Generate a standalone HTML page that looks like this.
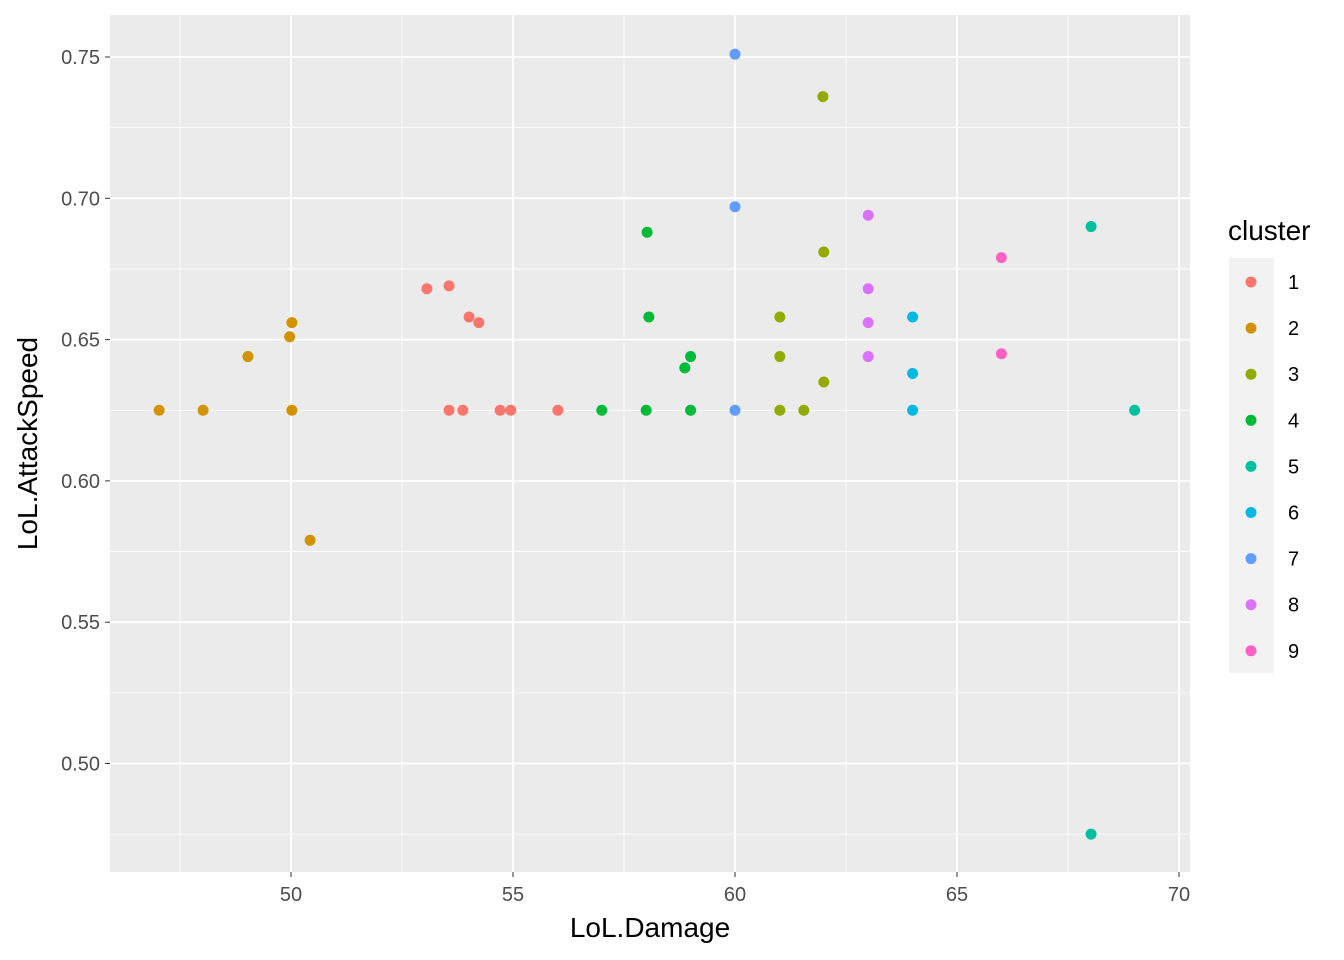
<!DOCTYPE html>
<html><head><meta charset="utf-8"><style>body{margin:0;background:#fff}svg{display:block;font-family:"Liberation Sans",sans-serif}</style></head>
<body>
<svg id="chart" width="1344" height="960" xmlns="http://www.w3.org/2000/svg"></svg>
<script>
const cluster1X=[53.06,53.56,54.01,54.23,53.56,53.87,54.71,54.95,56.01];
const cluster1Y=[0.668,0.669,0.658,0.656,0.625,0.625,0.625,0.625,0.625];
const cluster2X=[47.03,48.02,49.03,49.97,50.02,50.02,50.43];
const cluster2Y=[0.625,0.625,0.644,0.651,0.656,0.625,0.579];
const cluster3X=[61.98,62,61.01,61.01,61.01,62,61.55];
const cluster3Y=[0.736,0.681,0.658,0.644,0.625,0.635,0.625];
const cluster4X=[58.02,58.06,59,58.87,57,58,59];
const cluster4Y=[0.688,0.658,0.644,0.640,0.625,0.625,0.625];
const cluster5X=[68.02,69,68.02];
const cluster5Y=[0.690,0.625,0.475];
const cluster6X=[64,64,64];
const cluster6Y=[0.658,0.638,0.625];
const cluster7X=[60,60,60];
const cluster7Y=[0.751,0.697,0.625];
const cluster8X=[63,63,63,63];
const cluster8Y=[0.694,0.668,0.656,0.644];
const cluster9X=[66,66];
const cluster9Y=[0.679,0.645];
const clusterLabels=["1","2","3","4","5","6","7","8","9"];
const xTicks=[50,55,60,65,70];
const yTicks=[0.50,0.55,0.60,0.65,0.70,0.75];

const colors=["#F8766D","#D39200","#93AA00","#00BA38","#00C19F","#00B9E3","#619CFF","#DB72FB","#FF61C3"];
const X=[cluster1X,cluster2X,cluster3X,cluster4X,cluster5X,cluster6X,cluster7X,cluster8X,cluster9X];
const Y=[cluster1Y,cluster2Y,cluster3Y,cluster4Y,cluster5Y,cluster6Y,cluster7Y,cluster8Y,cluster9Y];
const L=110,R=1190,T=15,B=872;
const xs=v=>291+(v-50)*44.4;
const ys=v=>57+(0.75-v)*2826;
const svg=document.getElementById('chart');
const NS="http://www.w3.org/2000/svg";
function mk(tag,attrs,parent){const e=document.createElementNS(NS,tag);for(const k in attrs)e.setAttribute(k,attrs[k]);(parent||svg).appendChild(e);return e;}
const panel=mk('rect',{x:L,y:T,width:R-L,height:B-T,fill:'#EBEBEB'});


const grid=mk('g',{});


for(let i=0;i<xTicks.length;i++){
  const mx=xs(xTicks[i]-2.5);
  if(mx>L)mk('line',{x1:mx,x2:mx,y1:T,y2:B,stroke:'#fff','stroke-width':0.8},grid);
  mk('line',{x1:xs(xTicks[i]),x2:xs(xTicks[i]),y1:T,y2:B,stroke:'#fff','stroke-width':1.8},grid);
}
for(let i=0;i<yTicks.length;i++){
  const my=ys(yTicks[i]-0.025);
  if(my<B)mk('line',{x1:L,x2:R,y1:my,y2:my,stroke:'#fff','stroke-width':0.8},grid);
  mk('line',{x1:L,x2:R,y1:ys(yTicks[i]),y2:ys(yTicks[i]),stroke:'#fff','stroke-width':1.8},grid);
}
mk('line',{x1:L,x2:R,y1:ys(0.775),y2:ys(0.775),stroke:'#fff','stroke-width':0.8},grid);
for(const t of xTicks){
  mk('line',{x1:xs(t),x2:xs(t),y1:B,y2:B+5,stroke:'#333','stroke-width':1});
  const tx=mk('text',{x:xs(t),y:B+29,'text-anchor':'middle','font-size':20,fill:'#4D4D4D'});
  tx.textContent=t;
  
  
}
for(const t of yTicks){
  mk('line',{x1:L-5,x2:L,y1:ys(t),y2:ys(t),stroke:'#333','stroke-width':1});
  const tx=mk('text',{x:100,y:ys(t)+7,'text-anchor':'end','font-size':20,fill:'#4D4D4D'});
  tx.textContent=t.toFixed(2);
  
  
}
const xt=mk('text',{x:(L+R)/2,y:937,'text-anchor':'middle','font-size':28,fill:'#000'});
xt.textContent='LoL.Damage';


const yt=mk('text',{x:0,y:0,'text-anchor':'middle','font-size':28,fill:'#000',transform:`translate(37,${(T+B)/2}) rotate(-90)`});
yt.textContent='LoL.AttackSpeed';


for(let c=0;c<X.length;c++){
  for(let i=0;i<X[c].length;i++){
    const p=mk('circle',{cx:xs(X[c][i]),cy:ys(Y[c][i]),r:5.5,fill:colors[c]});
    
    
  }
}
const lg=mk('g',{});


const lt=mk('text',{x:1228,y:240,'font-size':28,fill:'#000'},lg);
lt.textContent='cluster';
mk('rect',{x:1229,y:258,width:45,height:415,fill:'#F2F2F2'},lg);
for(let c=0;c<clusterLabels.length;c++){
  const cy=282+c*46.1;
  const e=mk('g',{},lg);
  
  
  mk('circle',{cx:1251,cy:cy,r:5.5,fill:colors[c]},e);
  const t=mk('text',{x:1288,y:cy+7,'font-size':20,fill:'#000'},e);
  t.textContent=clusterLabels[c];
}
</script>
</body></html>
